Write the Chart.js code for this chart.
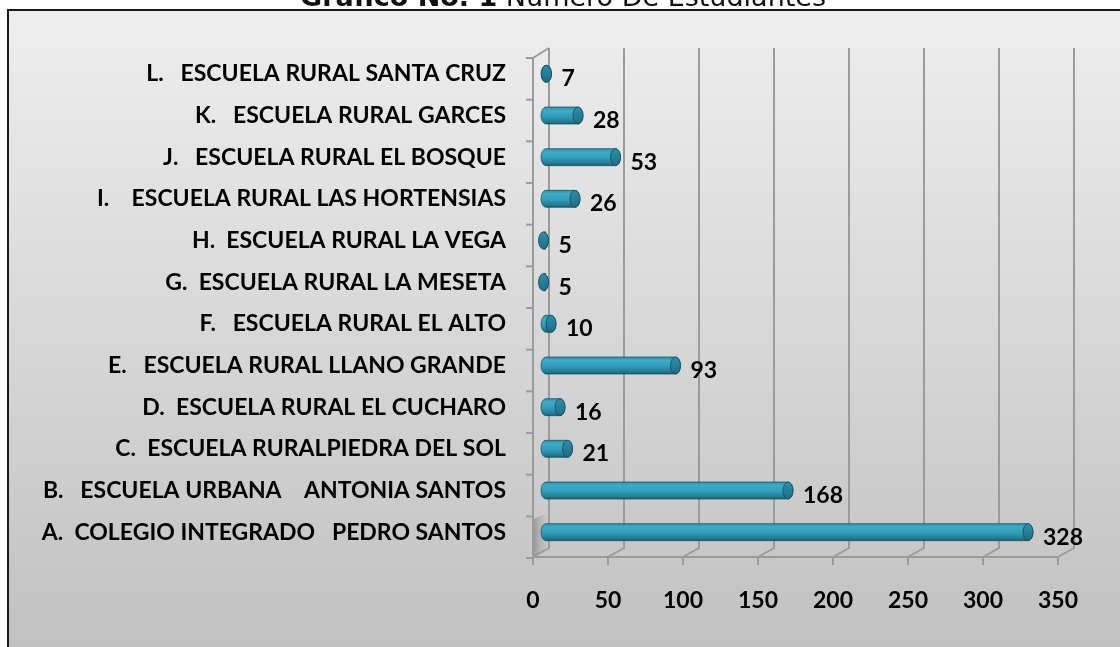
<!DOCTYPE html>
<html>
<head>
<meta charset="utf-8">
<script src="https://cdn.jsdelivr.net/npm/chart.js@4.4.1/dist/chart.umd.min.js"></script>
<style>
  html, body { margin: 0; padding: 0; background: #fff; }
  #wrap { width: 1120px; height: 647px; position: relative; }
</style>
</head>
<body>
<div id="wrap"><canvas id="chart" width="1120" height="647"></canvas></div>
<script>
// categories, bottom (A) to top (L)
const schools = [
  'A.  COLEGIO INTEGRADO   PEDRO SANTOS',
  'B.   ESCUELA URBANA    ANTONIA SANTOS',
  'C.  ESCUELA RURALPIEDRA DEL SOL',
  'D.  ESCUELA RURAL EL CUCHARO',
  'E.   ESCUELA RURAL LLANO GRANDE',
  'F.   ESCUELA RURAL EL ALTO',
  'G.  ESCUELA RURAL LA MESETA',
  'H.  ESCUELA RURAL LA VEGA',
  'I.    ESCUELA RURAL LAS HORTENSIAS',
  'J.   ESCUELA RURAL EL BOSQUE',
  'K.   ESCUELA RURAL GARCES',
  'L.   ESCUELA RURAL SANTA CRUZ',
];
const students = [328, 168, 21, 16, 93, 10, 5, 5, 26, 53, 28, 7];
const xTicks = [0, 50, 100, 150, 200, 250, 300, 350];

const titleBold = 'Gráfico No. 1';
const titleRest = ' Número De Estudiantes';

const FONT = 'Lato, "Open Sans", sans-serif';
const GRID = '#9b9b9b';
const DEPTH = 8;

// frame, background, title
const framePlugin = {
  id: 'frame',
  beforeDraw(chart) {
    const { ctx, width, height } = chart;
    ctx.save();
    const g = ctx.createLinearGradient(0, 10, 0, height);
    g.addColorStop(0, '#eeeeee');
    g.addColorStop(1, '#c1c1c1');
    ctx.fillStyle = g;
    ctx.fillRect(8, 10, width, height);
    ctx.strokeStyle = '#1a1a1a';
    ctx.lineWidth = 2;
    ctx.strokeRect(8, 10, width + 20, height + 20);

    ctx.fillStyle = '#111';
    ctx.textBaseline = 'alphabetic';
    ctx.font = 'bold 27px "DejaVu Sans", sans-serif';
    const w1 = ctx.measureText(titleBold).width;
    ctx.font = '27px "DejaVu Sans", sans-serif';
    const w2 = ctx.measureText(titleRest).width;
    const x0 = 563 - (w1 + w2) / 2;
    ctx.font = 'bold 27px "DejaVu Sans", sans-serif';
    ctx.fillText(titleBold, x0, 6);
    ctx.font = '27px "DejaVu Sans", sans-serif';
    ctx.fillText(titleRest, x0 + w1, 6);
    ctx.restore();
  }
};

// 3D walls, floor and grid lines
const wallPlugin = {
  id: 'walls',
  beforeDatasetsDraw(chart) {
    const { ctx, chartArea: a, scales } = chart;
    const xs = scales.x;
    const backTop = a.top - 5, backBot = a.bottom - 5;
    const frontTop = a.top + 5, frontBot = a.bottom + 4;
    ctx.save();
    ctx.strokeStyle = GRID;
    ctx.lineWidth = 2;
    xTicks.forEach((v) => {
      const px = xs.getPixelForValue(v);
      ctx.beginPath();
      ctx.moveTo(px + DEPTH, backTop);
      ctx.lineTo(px + DEPTH, backBot);
      ctx.lineTo(px - DEPTH, frontBot);
      ctx.lineTo(px - DEPTH, frontBot + 8);
      ctx.stroke();
    });
    const x0 = xs.getPixelForValue(0);
    const x1 = xs.getPixelForValue(350);
    ctx.beginPath();
    ctx.moveTo(x0 - DEPTH, frontBot);
    ctx.lineTo(x1 - DEPTH, frontBot);
    ctx.stroke();
    // side wall
    ctx.beginPath();
    ctx.moveTo(x0 + DEPTH, backTop);
    ctx.lineTo(x0 - DEPTH, frontTop);
    ctx.lineTo(x0 - DEPTH, frontBot);
    ctx.stroke();
    // soft shadow on the wall behind the longest bar
    const sh = ctx.createLinearGradient(x0 - DEPTH, 0, x0 + DEPTH, 0);
    sh.addColorStop(0, 'rgba(90,90,90,0.45)');
    sh.addColorStop(1, 'rgba(150,150,150,0)');
    ctx.fillStyle = sh;
    ctx.beginPath();
    ctx.moveTo(x0 - DEPTH + 1, a.bottom - 34);
    ctx.lineTo(x0 + DEPTH - 2, a.bottom - 40);
    ctx.lineTo(x0 + DEPTH - 2, backBot);
    ctx.lineTo(x0 - DEPTH + 1, frontBot - 1);
    ctx.closePath();
    ctx.fill();
    // category ticks on the side wall
    const step = (a.bottom - a.top) / schools.length;
    for (let i = 0; i <= schools.length; i++) {
      const y = a.top + i * step + 5;
      ctx.beginPath();
      ctx.moveTo(x0 - DEPTH - 7, y);
      ctx.lineTo(x0 - DEPTH, y);
      ctx.stroke();
    }
    ctx.restore();
  },
  afterDraw(chart) {
    const { ctx, chartArea: a, scales } = chart;
    ctx.save();
    ctx.fillStyle = '#000';
    ctx.font = 'bold 23px ' + FONT;
    ctx.textAlign = 'center';
    ctx.textBaseline = 'middle';
    xTicks.forEach((v) => {
      ctx.fillText(String(v), scales.x.getPixelForValue(v) - DEPTH, a.bottom + 48);
    });
    ctx.restore();
  }
};

// cylinder bars and value labels
const cylinderPlugin = {
  id: 'cylinders',
  afterDatasetsDraw(chart) {
    const { ctx } = chart;
    const meta = chart.getDatasetMeta(0);
    ctx.save();
    meta.data.forEach((el, i) => {
      const { x, y, base, height } = el.getProps(['x', 'y', 'base', 'height'], true);
      const h = height, ry = h / 2, rx = 5;
      const top = y - ry;
      const g = ctx.createLinearGradient(0, top, 0, top + h);
      g.addColorStop(0, '#2f8fab');
      g.addColorStop(0.2, '#3fabc8');
      g.addColorStop(0.55, '#2f9dbb');
      g.addColorStop(0.85, '#247c95');
      g.addColorStop(1, '#1a5e71');
      ctx.beginPath();
      ctx.ellipse(base + rx, y, rx, ry, 0, Math.PI / 2, Math.PI * 1.5);
      ctx.lineTo(x - rx, top);
      ctx.ellipse(x - rx, y, rx, ry, 0, -Math.PI / 2, Math.PI / 2);
      ctx.closePath();
      ctx.fillStyle = g;
      ctx.fill();
      ctx.strokeStyle = 'rgba(20,75,90,0.7)';
      ctx.lineWidth = 1;
      ctx.stroke();
      // end cap
      ctx.beginPath();
      ctx.ellipse(x - rx, y, rx, ry, 0, 0, Math.PI * 2);
      const cg = ctx.createLinearGradient(0, top, 0, top + h);
      cg.addColorStop(0, '#2b90ac');
      cg.addColorStop(1, '#1f6d83');
      ctx.fillStyle = cg;
      ctx.fill();
      ctx.strokeStyle = 'rgba(20,75,90,0.8)';
      ctx.stroke();

      ctx.fillStyle = '#000';
      ctx.font = 'bold 23px ' + FONT;
      ctx.textAlign = 'left';
      ctx.textBaseline = 'middle';
      ctx.fillText(String(students[i]), x + 10, y + 5);
    });
    ctx.restore();
  }
};

new Chart(document.getElementById('chart'), {
  type: 'bar',
  data: {
    labels: schools,
    datasets: [{
      data: students,
      backgroundColor: 'rgba(0,0,0,0)',
      barThickness: 17,
    }],
  },
  options: {
    indexAxis: 'y',
    responsive: false,
    animation: false,
    layout: { padding: { top: 53, bottom: 94, right: 54, left: 0 } },
    plugins: { legend: { display: false }, tooltip: { enabled: false } },
    scales: {
      x: {
        display: false,
        min: 0,
        max: 350,
        afterBuildTicks(scale) { scale.ticks = xTicks.map((v) => ({ value: v })); },
      },
      y: {
        reverse: true,
        grid: { display: false },
        border: { display: false },
        afterFit(scale) { scale.width = 541; },
        ticks: {
          padding: 27,
          color: '#000',
          font: { family: FONT, size: 23, weight: 'bold' },
        },
      },
    },
  },
  plugins: [framePlugin, wallPlugin, cylinderPlugin],
});
</script>
</body>
</html>
